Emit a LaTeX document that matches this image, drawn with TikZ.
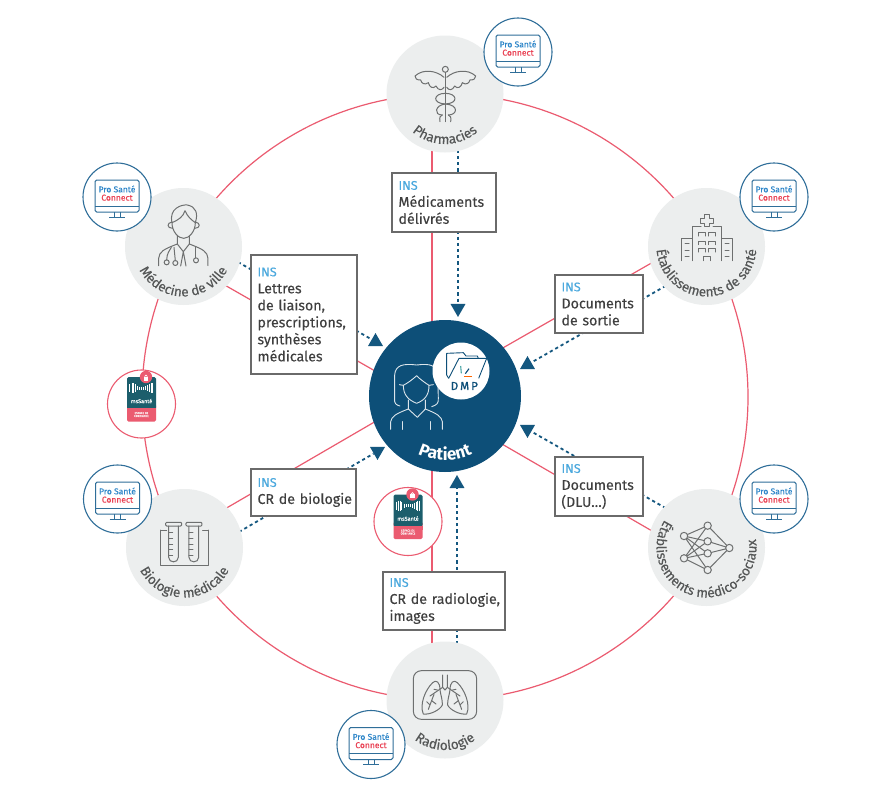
\documentclass[tikz,border=0pt]{standalone}
\usepackage{fontspec}
\setmainfont{Fira Sans}[FakeBold=0.12]
\newfontfamily\labelfont{Fira Sans}[FakeBold=0.25]
\newfontfamily\patfont{Fira Sans}
\newfontfamily\dmpfont{Fira Sans}[LetterSpace=18,FakeBold=1.0]
\usetikzlibrary{decorations.text,calc,shapes.geometric,backgrounds}
\definecolor{pinkc}{HTML}{EB5B70}
\definecolor{navy}{HTML}{0D4F78}
\definecolor{dotc}{HTML}{14577F}
\definecolor{grayb}{HTML}{ECEEEE}
\definecolor{iconc}{HTML}{6E7070}
\definecolor{labelc}{HTML}{555757}
\definecolor{boxc}{HTML}{6A6A6A}
\definecolor{textc}{HTML}{3F3F3F}
\definecolor{insc}{HTML}{4CA9DE}
\definecolor{pscb}{HTML}{2F6E99}
\definecolor{psct}{HTML}{2E86C9}
\definecolor{pscr}{HTML}{EA4355}
\definecolor{tealc}{HTML}{1C5E6C}
\tikzset{
  actor/.style={circle,fill=grayb,minimum size=117pt,inner sep=0pt},
  pscring/.style={circle,draw=pscb,line width=1.1pt,fill=white,minimum size=68pt,inner sep=0pt},
  msring/.style={circle,draw=pinkc,line width=1.1pt,fill=white,minimum size=68pt,inner sep=0pt},
  spoke/.style={draw=pinkc,line width=1.2pt},
  dotline/.style={draw=dotc,line width=1.8pt,dash pattern=on 3.2pt off 3pt},
  tri/.style={regular polygon,regular polygon sides=3,fill=dotc,inner sep=0pt,minimum size=17.3pt},
  tridown/.style={tri,shape border rotate=180},
  infobox/.style={draw=boxc,line width=1.2pt,fill=white,inner xsep=6.5pt,inner ysep=0pt,align=left,
     font=\fontsize{14.2}{17}\selectfont,text=textc,execute at begin node={\hyphenpenalty=10000 \exhyphenpenalty=10000 \hbadness=10000 \hfuzz=40pt}},
  ic/.style={draw=iconc,line width=1pt,line cap=round,line join=round},
  mon/.style={draw=pscb,line width=1pt,line join=round},
  white line/.style={draw=white!85!navy,line width=0.9pt,line cap=round,line join=round},
}
\newcommand{\ins}{\textcolor{insc}{\fontsize{12.6}{17}\selectfont INS}\\}
\newcommand{\arclabel}[5]{%
  \path[decorate,decoration={text along path,text align=center,text color=#5,
     text={|\fontsize{13.6}{14}\labelfont|#2}}]
     ($(#1)+(#4-140:#3pt)$) arc[start angle=#4-140,end angle=#4+140,radius=#3pt];}
\newcommand{\psc}[3]{%
  \node[pscring] (#1) at (#2,#3) {};
  \begin{scope}[shift={(#2,#3)}]
    \draw[mon,rounded corners=1.6pt] (-22,-17) rectangle (22,15);
    \draw[mon] (-22,9) -- (22,9);
    \draw[mon] (-3,15) -- (-3,20) (3,15) -- (3,20) (-8,20) -- (8,20);
    \node[text=psct,font=\fontsize{8.5}{9}\selectfont,inner sep=0pt] (#1a) at (0,-8) {Pro Santé};
    \node[text=pscr,font=\fontsize{8.5}{9}\selectfont,inner sep=0pt] (#1b) at (0,0.7) {Connect};
  \end{scope}}
\newcommand{\mss}[3]{%
  \node[msring] (#1) at (#2,#3) {};
  \begin{scope}[shift={(#2,#3)}]
    \fill[pinkc,rounded corners=1.5pt] (-14.5,0) rectangle (14.5,17.5);
    \fill[tealc,rounded corners=1.5pt] (-14.5,-27) rectangle (14.5,5);
    \fill[pinkc] (-14.5,4) rectangle (14.5,8);
    \fill[pinkc] (4.5,-27) circle (6.2);
    \fill[white] (2.2,-27.5) rectangle (6.8,-23.5);
    \draw[white,line width=0.7pt] (3.2,-27.5) arc[start angle=180,end angle=0,radius=1.3pt];
    \draw[white,line width=0.8pt] (-12,-20) -- (-12,-12);
    \foreach \xx/\hh in {-9.5/5,-8/5,-6.5/4,-4/2,-2/1.5,0/1.5,2/1.5,4/2,6/3,8/4,9.7/5,11.3/5}
      {\draw[white,line width=0.7pt] (\xx,-16-\hh/1) -- (\xx,-16+\hh/1);}
    \node[text=white,font=\fontsize{5.5}{5.5}\selectfont,inner sep=0pt] (#1a) at (0,-3) {msSanté};
    \node[text=white!85!pinkc,font=\fontsize{2.9}{3}\selectfont,align=center,inner sep=0pt] (#1b) at (0,10.5) {ESPACE DE\\CONFIANCE};
  \end{scope}}
\begin{document}
\begin{tikzpicture}[x=1pt,y=-1pt]
\path[use as bounding box] (0,0) rectangle (895,790);
% main actors
\node[circle,minimum size=606pt,inner sep=0pt] (ring) at (445,397) {};
\node[actor] (pharm) at (445,94) {};
\node[actor] (radio) at (445,700) {};
\node[actor] (medec) at (183.5,246.5) {};
\node[actor] (biolo) at (184.5,547.5) {};
\node[actor] (etabs) at (706.5,246.5) {};
\node[actor] (medso) at (706.5,547.5) {};
\node[circle,fill=navy,minimum size=152pt,inner sep=0pt] (patient) at (445,396) {};
% arrowheads
\node[tri] (tMed) at (375.5,341.7) {};
\node[tridown] (tBio) at (377.5,451.3) {};
\node[tri] (tEta) at (527.5,364.7) {};
\node[tridown] (tSoc) at (527.5,429.3) {};
\node[tridown] (tPha) at (458,308.3) {};
\node[tri] (tRad) at (457,483.7) {};
% rings and connectors
\begin{pgfonlayer}{background}
  \fill[white] (0,0) rectangle (895,790);
  \node[circle,draw=pinkc,line width=1.2pt,minimum size=606pt,inner sep=0pt] (ringline) at (ring) {};
  \draw[spoke] ($(pharm)+(-13,0)$) -- ($(patient)+(-13,0)$);
  \draw[spoke] ($(radio)+(-13,0)$) -- ($(patient)+(-13,0)$);
  \draw[spoke] ($(medec)!13pt!-90:(patient)$) -- ($(patient)!13pt!90:(medec)$);
  \draw[spoke] ($(biolo)!13pt!90:(patient)$) -- ($(patient)!13pt!-90:(biolo)$);
  \draw[spoke] ($(etabs)!13pt!-90:(patient)$) -- ($(patient)!13pt!90:(etabs)$);
  \draw[spoke] ($(medso)!13pt!90:(patient)$) -- ($(patient)!13pt!-90:(medso)$);
  \draw[dotline] ($(pharm)+(13,0)$) -- (tPha);
  \draw[dotline] ($(radio)+(12,0)$) -- (tRad);
  \draw[dotline] ($(medec)!14pt!90:(tMed)$) -- (tMed);
  \draw[dotline] ($(biolo)!14pt!-90:(tBio)$) -- (tBio);
  \draw[dotline] ($(etabs)!14pt!90:(tEta)$) -- (tEta);
  \draw[dotline] ($(medso)!14pt!-90:(tSoc)$) -- (tSoc);
\end{pgfonlayer}
% curved labels
\arclabel{pharm}{Pharmacies}{50}{270}{labelc}
\arclabel{radio}{Radiologie}{50}{270}{labelc}
\arclabel{medec}{Médecine de ville}{50}{270}{labelc}
\arclabel{biolo}{Biologie médicale}{50}{270}{labelc}
\arclabel{etabs}{Établissements de santé}{50}{270}{labelc}
\arclabel{medso}{Établissements médico-sociaux}{50}{258}{labelc}
\path[decorate,decoration={text along path,text align=center,text color=white,
   text={|\fontsize{17}{18}\patfont\bfseries|Patient}}]
   ($(patient)+(210:64pt)$) arc[start angle=210,end angle=330,radius=64pt];
% info boxes
\node[infobox,text width=91pt,minimum height=59pt] (bMed) at (444,202.5) {\ins Médicaments\\délivrés};
\node[infobox,text width=93pt,minimum height=119pt] (bLet) at (304,314.5) {\ins Lettres\\de liaison,\\prescriptions,\\synthèses\\médicales};
\node[infobox,text width=92pt,minimum height=47pt] (bBio) at (303.5,492.5) {\ins \mbox{CR de biologie}};
\node[infobox,text width=109pt,minimum height=58pt] (bRad) at (444,601) {\ins \mbox{CR de radiologie,}\\images};
\node[infobox,text width=75pt,minimum height=58pt] (bSor) at (599,304) {\ins Documents\\de sortie};
\node[infobox,text width=75pt,minimum height=59pt] (bDlu) at (599,486.5) {\ins Documents\\(DLU…)};
% Pro Santé Connect
\psc{pscA}{518}{52}
\psc{pscB}{117}{197}
\psc{pscC}{117.5}{499}
\psc{pscD}{774}{197}
\psc{pscE}{774}{499}
\psc{pscF}{371}{744.5}
% MSSanté
\mss{mssA}{141.5}{404}
\mss{mssB}{408}{521.5}
% Patient icon and DMP (zoom coordinates)
\begin{scope}[shift={(360,310)},scale=1/3]
  \draw[white line] (120,288) .. controls (108,285) and (102,280) .. (104,265) -- (104,195)
     .. controls (106,165) and (130,160) .. (170,165) .. controls (210,160) and (230,165) .. (233,195)
     -- (235,265) .. controls (236,280) and (230,285) .. (215,290);
  \draw[white line] (118,224) -- (130,226) .. controls (145,218) and (158,208) .. (170,197)
     .. controls (180,208) and (195,218) .. (207,226) -- (220,224);
  \draw[white line] (130,226) .. controls (130,255) and (145,270) .. (170,280) .. controls (195,270) and (207,255) .. (207,226);
  \draw[white line] (145,270) -- (145,297) -- (172,322) -- (196,297) -- (196,270);
  \draw[white line] (92,358) -- (92,335) .. controls (95,320) and (105,312) .. (145,297);
  \draw[white line] (247,358) -- (247,335) .. controls (244,320) and (234,312) .. (196,297);
  \draw[white line] (127,335) -- (127,358) (212,335) -- (212,358);
  \node[circle,fill=white,minimum size=57pt,inner sep=0pt] (dmpc) at (303,183) {};
  \draw[navy,line width=0.9pt,line join=round] (266,205) -- (260,195) -- (260,130) -- (310,128) -- (318,138) -- (352,138) -- (355,145);
  \draw[navy,line width=0.9pt,line join=round] (266,205) -- (297,145) -- (380,145) -- (356,205);
  \draw[teal!70!white,line width=1.1pt] (302,168) -- (304,190);
  \draw[navy,line width=1.1pt] (327,176) -- (316,191);
  \draw[orange!80!red,line width=1.1pt] (313,199) -- (335,199);
  \node[text=navy,font=\fontsize{11.5}{11.5}\dmpfont,inner sep=0pt] (dmpt) at (313,228) {DMP};
\end{scope}
% Caduceus
\begin{scope}[shift={(370,0)},scale=1/3]
  \draw[ic] (226,208) circle (9pt);
  \draw[ic] (226,217) -- (226,365);
  \draw[ic] (222,232) .. controls (200,212) and (160,205) .. (135,228) .. controls (135,236) and (140,240) .. (152,240)
    .. controls (155,252) and (165,255) .. (175,248) .. controls (178,262) and (190,268) .. (198,258)
    .. controls (205,272) and (215,272) .. (222,262);
  \draw[ic] (230,232) .. controls (252,212) and (292,205) .. (317,228) .. controls (317,236) and (312,240) .. (300,240)
    .. controls (297,252) and (287,255) .. (277,248) .. controls (274,262) and (262,268) .. (254,258)
    .. controls (247,272) and (237,272) .. (230,262);
  \draw[ic] (226,280) .. controls (190,280) and (185,310) .. (226,312) .. controls (268,315) and (262,345) .. (235,345);
  \draw[ic] (226,280) .. controls (262,280) and (267,310) .. (226,312) .. controls (195,315) and (190,345) .. (217,345);
  \draw[ic] (210,365) .. controls (207,352) and (212,345) .. (217,345) (242,365) .. controls (245,352) and (240,345) .. (235,345);
\end{scope}
% Doctor
\begin{scope}[shift={(70,170)},scale=1/3]
  \draw[ic] (306,158) .. controls (296,115) and (335,103) .. (352,105) .. controls (378,110) and (385,130) .. (376,158);
  \draw[ic] (306,158) .. controls (325,150) and (340,140) .. (345,122) .. controls (352,140) and (365,150) .. (376,158);
  \draw[ic] (306,158) .. controls (306,185) and (325,205) .. (341,205) .. controls (357,205) and (376,185) .. (376,158);
  \draw[ic] (306,156) .. controls (290,158) and (290,175) .. (308,175);
  \draw[ic] (376,156) .. controls (392,158) and (392,175) .. (374,175);
  \draw[ic] (322,198) -- (322,222) -- (340,245) -- (358,222) -- (358,198);
  \draw[ic] (266,287) -- (266,265) .. controls (268,245) and (280,238) .. (322,222);
  \draw[ic] (414,287) -- (414,265) .. controls (412,245) and (400,238) .. (358,222);
  \draw[ic] (340,245) -- (332,288) (340,245) -- (348,288);
  \draw[ic] (290,277) circle (7.5pt) (316,279) circle (7.5pt) (378,271) circle (7.5pt);
  \draw[ic] (290,270) .. controls (290,250) and (300,240) .. (304,232);
  \draw[ic] (316,272) -- (312,232);
  \draw[ic] (378,264) -- (378,232);
\end{scope}
% Test tubes
\begin{scope}[shift={(70,460)},scale=1/3]
  \draw[ic] (272,210) -- (272,315) -- (415,315) -- (415,210);
  \draw[ic] (272,210) -- (290,210) (415,210) -- (398,210);
  \foreach \d in {0,61}{
    \draw[ic,rounded corners=1pt] (287+\d,187) rectangle (335+\d,198);
    \draw[ic] (296+\d,198) -- (296+\d,292) .. controls (296+\d,310) and (325+\d,310) .. (325+\d,292) -- (325+\d,198);
    \foreach \yy in {218,235,252,269,285}{\draw[ic] (296+\d,\yy) -- (308+\d,\yy);}
  }
\end{scope}
% Hospital
\begin{scope}[shift={(640,170)},scale=1/3]
  \draw[ic] (125,272) -- (125,206) -- (157,206) (157,272) -- (157,170) -- (183,170) (219,170) -- (245,170) -- (245,272) (245,206) -- (278,206) -- (278,272);
  \draw[ic] (193,134) -- (209,134) -- (209,144) -- (220,144) -- (220,160) -- (209,160) -- (209,170) -- (193,170) -- (193,160) -- (182,160) -- (182,144) -- (193,144) -- cycle;
  \foreach \xx in {175,205}{\foreach \yy in {188,214,236}{
    \draw[ic] (\xx,\yy+10) -- (\xx,\yy) -- (\xx+20,\yy) -- (\xx+20,\yy+10);}}
  \draw[ic] (190,272) -- (190,260) -- (212,260) -- (212,272);
  \foreach \yy in {220,240,260}{\draw[ic] (135,\yy) -- (147,\yy) (255,\yy) -- (267,\yy);}
\end{scope}
% Neural net
\begin{scope}[shift={(640,460)},scale=1/3]
  \draw[ic] (132,228) -- (203,197) (132,228) -- (203,244) (132,228) -- (203,280) (132,228) -- (203,330);
  \draw[ic] (132,295) -- (203,197) (132,295) -- (203,244) (132,295) -- (203,280) (132,295) -- (203,330);
  \draw[ic] (268,264) -- (203,197) (268,264) -- (203,244) (268,264) -- (203,280) (268,264) -- (203,330);
  \foreach \px/\py in {132/228,132/295,203/197,203/244,203/280,203/330,268/264}
    {\draw[ic,fill=grayb] (\px,\py) circle (11pt);}
\end{scope}
% Lungs
\begin{scope}[shift={(330,640)},scale=1/3]
  \draw[ic,rounded corners=8pt] (250,92) rectangle (440,238);
  \draw[ic] (338,105) -- (338,142) -- (300,168) (352,105) -- (352,142) -- (390,168);
  \draw[ic] (338,142) -- (345,150) -- (352,142);
  \draw[ic] (330,150) .. controls (330,125) and (318,118) .. (308,128) .. controls (285,150) and (268,195) .. (280,222)
     .. controls (300,225) and (330,210) .. (337,195) .. controls (338,180) and (332,165) .. (330,150);
  \draw[ic] (360,150) .. controls (360,125) and (372,118) .. (382,128) .. controls (405,150) and (422,195) .. (410,222)
     .. controls (390,225) and (360,210) .. (353,195) .. controls (352,180) and (358,165) .. (360,150);
  \draw[ic] (322,150) -- (312,148) (312,163) -- (295,208) (305,182) -- (318,192) (300,195) -- (290,185);
  \draw[ic] (368,150) -- (378,148) (378,163) -- (395,208) (385,182) -- (372,192) (390,195) -- (400,185);
\end{scope}
\end{tikzpicture}
\end{document}
